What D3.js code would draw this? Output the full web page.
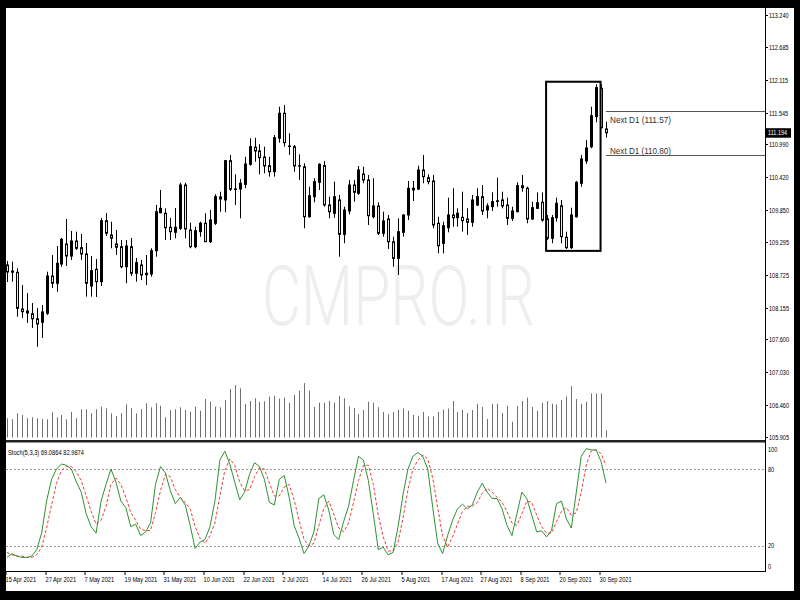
<!DOCTYPE html>
<html><head><meta charset="utf-8">
<script src="https://cdn.jsdelivr.net/npm/d3@7"></script>
<style>html,body{margin:0;padding:0;background:#000;} svg{display:block}</style>
</head><body>
<svg id="c" width="800" height="600"></svg>
<script>
// ---------- data ----------
const opens=[
108.895,108.770,108.768,108.130,108.095,108.048,107.961,107.899,108.055,108.704,
108.577,108.912,109.260,109.051,109.312,109.196,109.086,108.530,108.820,108.605,
109.665,109.416,109.260,109.213,108.865,109.213,108.751,108.895,108.751,108.738,
109.143,109.804,109.793,109.550,109.463,109.533,110.285,109.503,109.213,109.474,
109.620,109.300,109.620,110.042,110.025,110.708,110.216,110.216,110.297,110.645,
110.941,110.876,110.772,110.621,110.517,111.097,111.532,110.963,110.951,110.621,
110.603,109.734,110.082,110.332,110.621,109.938,109.793,110.025,109.428,109.833,
110.285,110.141,110.477,110.372,109.734,109.920,109.446,109.694,109.300,109.011,
109.463,109.764,110.198,110.216,110.546,110.412,110.355,109.620,109.272,109.543,
109.764,109.717,109.724,109.694,109.637,109.938,110.082,109.851,109.908,110.000,
110.025,109.938,109.706,109.821,110.273,110.228,109.694,109.880,109.985,109.694,
109.359,109.717,109.926,109.376,109.196,109.734,110.315,110.703,110.951,111.473,
111.966,111.259];
const highs=[
108.964,108.952,108.837,108.547,108.408,108.234,108.147,108.200,108.778,109.069,
109.225,109.364,109.694,109.486,109.474,109.434,109.277,109.051,108.999,109.712,
109.799,109.647,109.503,109.329,109.329,109.364,109.016,108.982,109.069,109.185,
109.938,110.198,109.880,109.712,109.886,110.325,110.325,109.630,109.561,109.647,
109.793,109.851,110.124,110.169,110.720,110.807,110.471,110.390,110.777,111.097,
111.108,110.993,110.951,110.777,111.154,111.646,111.676,111.184,110.981,110.819,
110.663,110.256,110.402,110.663,110.703,110.082,110.343,110.112,109.908,110.372,
110.372,110.616,110.603,110.459,110.402,109.985,109.821,109.764,109.387,109.706,
109.776,110.355,110.355,110.621,110.807,110.471,110.459,109.734,109.647,110.065,
110.228,109.880,110.169,109.880,110.112,110.228,110.285,109.967,110.158,110.412,
110.169,110.065,109.908,110.332,110.459,110.256,109.995,110.158,110.158,109.764,
109.764,110.065,110.025,109.474,109.891,110.355,110.807,111.068,111.646,112.036,
112.036,111.386];
const lows=[
108.599,108.605,107.996,107.974,107.887,107.800,107.475,107.626,108.026,108.495,
108.431,108.865,108.877,108.982,109.156,108.982,108.344,108.344,108.339,108.530,
109.399,109.185,109.069,108.837,108.577,108.704,108.605,108.634,108.547,108.691,
109.039,109.793,109.329,109.329,109.359,109.503,109.359,109.185,109.185,109.387,
109.300,109.277,109.590,109.821,109.811,110.181,109.938,109.706,110.228,110.621,
110.690,110.471,110.489,110.430,110.430,111.021,110.951,110.807,110.517,110.372,
109.533,109.717,109.985,110.198,109.908,109.706,109.717,109.039,109.272,109.776,
109.995,110.112,110.315,109.590,109.706,109.416,109.387,109.173,108.865,108.721,
109.387,109.677,110.007,110.198,110.315,110.297,109.533,109.098,109.098,109.463,
109.561,109.561,109.474,109.416,109.561,109.920,109.764,109.706,109.833,109.908,
109.880,109.590,109.660,109.811,110.169,109.620,109.677,109.868,109.647,109.329,
109.272,109.647,109.272,109.173,109.173,109.717,110.256,110.650,110.923,111.375,
111.271,111.108];
const closes=[
108.773,108.790,108.142,108.083,108.060,107.961,107.869,108.078,108.704,108.577,
108.924,109.342,109.051,109.312,109.185,109.086,108.577,108.796,108.605,109.665,
109.446,109.359,109.203,108.865,109.225,108.751,108.935,108.721,108.726,109.143,
109.821,109.880,109.543,109.474,109.550,110.285,109.521,109.213,109.491,109.620,
109.300,109.677,110.082,110.077,110.708,110.211,110.207,110.315,110.650,110.951,
110.876,110.760,110.616,110.517,111.108,111.532,111.021,110.955,110.616,110.616,
109.734,110.099,110.343,110.645,109.938,109.821,110.082,109.428,109.851,110.285,
110.158,110.546,110.372,109.752,109.920,109.446,109.660,109.300,109.011,109.474,
109.764,110.228,110.228,110.546,110.430,110.343,109.590,109.230,109.578,109.764,
109.717,109.793,109.665,109.637,110.025,110.082,109.833,109.920,109.995,110.010,
109.920,109.706,109.833,110.273,110.238,109.694,109.891,109.978,109.677,109.359,
109.717,109.967,109.387,109.196,109.764,110.332,110.737,110.929,111.490,111.977,
111.281,111.194];
const volumes=[
28800,27300,36300,33750,28800,30300,28800,27300,27300,37800,
30300,33750,27300,38250,28800,42300,42300,36300,42300,46200,
43800,36300,32250,36300,49800,43800,36300,42300,51300,45300,
51300,47700,30300,41250,42300,45300,41250,38700,46200,40200,
57750,53700,46200,45300,56250,72750,78750,73800,50250,54750,
58800,53700,54300,61500,62400,58350,59850,52200,64050,70200,
81600,70200,45900,52200,52200,54750,52200,62400,58800,46950,
44400,35100,41250,53700,52200,45450,38250,35100,38250,41250,
43350,40200,34050,32550,38250,31500,31500,38250,41850,43350,
54750,38250,41250,36600,41250,50550,45900,27900,50550,50550,
36600,47550,23700,47550,54750,59850,45900,40200,52200,54750,
50550,49500,56250,61500,76950,57750,50550,53700,66150,66150,
66150,10800];
const stochK=[
11,14,12,11,11,12,17,30,55,72,
80,84,83,80,70,62,45,35,30,55,
68,80,70,55,50,35,37,28,31,38,
68,82,77,63,53,58,52,36,18,23,
25,35,55,87,94,84,70,56,62,76,
85,82,72,54,52,72,75,58,36,26,
14,20,31,57,60,48,29,25,39,51,
71,90,87,71,45,17,19,13,15,35,
60,80,90,93,90,80,50,22,14,28,
40,49,52.6,49,52,62,69,62,57,57,
49,36,28,45,62,57,44,31,31.7,27,
32,53,55,41,34,62,90,96,95,95,
86,69.0864];
const stochD=[
15,13,12,12,11,11,13,19,34,52,
69,79,82,82,78,71,59,47,37,40,
51,68,73,68,58,46,40,33,32,32,
46,63,76,74,64,58,54,49,35,26,
22,28,38,59,79,88,83,70,63,64,
74,81,80,69,59,59,66,68,56,40,
25,20,22,36,49,55,45,34,31,38,
54,71,83,83,68,44,27,16,16,23,
42,64,80,87,91,88,73,50,28,19,
27,37,47,51,51,54,61,65,62,58,
54,47,38,36,45,55,54,44,35,30,
30,39,47,50,44,46,62,83,94,95,
92,82.9874];
const dateLabels=["15 Apr 2021","27 Apr 2021","7 May 2021","19 May 2021","31 May 2021","10 Jun 2021","22 Jun 2021","2 Jul 2021","14 Jul 2021","26 Jul 2021","5 Aug 2021","17 Aug 2021","27 Aug 2021","8 Sep 2021","20 Sep 2021","30 Sep 2021"];
const dateLabelIdx=[0,8,16,24,32,40,48,56,64,72,80,88,96,104,112,120];
const priceTicks=[113.240,112.685,112.115,111.545,110.990,110.420,109.850,109.295,108.725,108.155,107.600,107.030,106.460,105.905];
const stochTicks=[100,80,20,0];
const stochLevels=[80,20];
const nextD1=[111.57,110.80];
const boxIdx=[109,120];
const boxPrice=[112.08,109.14];
const currentPrice=111.194;
const stochTitle="Stoch(5,3,3) 69.0864 82.9874";
const watermark="CMPRO.IR";

// ---------- drawing ----------
const svg=d3.select('#c');
svg.append('rect').attr('width',800).attr('height',600).attr('fill','#000');
svg.append('rect').attr('x',6).attr('y',8).attr('width',788).attr('height',583).attr('fill','#fff');

const n=closes.length;
const x=d3.scaleLinear().domain([0,121]).range([7,606]);
const yP=d3.scaleLinear().domain([105.905,113.240]).range([437,15]);
const yV=d3.scaleLinear().domain([0,100000]).range([437.5,437.5-100000/1500]);
const yS=d3.scaleLinear().domain([0,100]).range([571.5,443.5]);
const px=i=>Math.round(x(i))+0.5;
const FONT="'Liberation Sans', Arial, sans-serif";

const defs=svg.append('defs');
defs.append('clipPath').attr('id','mainClip').append('rect').attr('x',6).attr('y',8).attr('width',759.5).attr('height',432);
defs.append('clipPath').attr('id','stClip').append('rect').attr('x',6).attr('y',443).attr('width',759.5).attr('height',129);

// watermark
svg.append('text').attr('x',262).attr('y',325).attr('font-family',"Roboto, 'Liberation Sans', sans-serif")
  .attr('font-weight',300).attr('font-size',84).attr('fill','#eeeeee')
  .attr('textLength',273).attr('lengthAdjust','spacingAndGlyphs').text(watermark);

const main=svg.append('g').attr('clip-path','url(#mainClip)');

// volumes
main.append('g').selectAll('line').data(volumes).join('line')
  .attr('x1',(d,i)=>px(i)).attr('x2',(d,i)=>px(i))
  .attr('y1',yV(0)).attr('y2',d=>yV(d))
  .attr('stroke','#707070').attr('stroke-width',1);

// candles
const idx=d3.range(n);
const cg=main.append('g');
cg.selectAll('line').data(idx).join('line')
  .attr('x1',i=>px(i)).attr('x2',i=>px(i))
  .attr('y1',i=>yP(highs[i])).attr('y2',i=>yP(lows[i]))
  .attr('stroke','#000').attr('stroke-width',1);
cg.selectAll('rect').data(idx).join('rect')
  .attr('x',i=>px(i)-1).attr('width',2)
  .attr('y',i=>yP(Math.max(opens[i],closes[i])))
  .attr('height',i=>Math.max(0.5,Math.abs(yP(opens[i])-yP(closes[i]))))
  .attr('fill',i=>closes[i]>=opens[i]?'#000':'#efe6e6')
  .attr('stroke','#000').attr('stroke-width',1);

// box
main.append('rect').attr('x',x(boxIdx[0])-0.5).attr('y',yP(boxPrice[0]))
  .attr('width',x(boxIdx[1])-x(boxIdx[0])).attr('height',yP(boxPrice[1])-yP(boxPrice[0]))
  .attr('fill','none').attr('stroke','#000').attr('stroke-width',2);

// next D1 lines
nextD1.forEach((v,k)=>{
  const yy=Math.round(yP(v))+0.5;
  main.append('line').attr('x1',x(121)).attr('x2',765.5).attr('y1',yy).attr('y2',yy)
    .attr('stroke','#555').attr('stroke-width',1);
  main.append('text').attr('x',x(121)+4).attr('y',k===0?yy+11:yy-2)
    .attr('font-family',FONT).attr('font-size',9.5).attr('fill','#333')
    .attr('textLength',61).attr('lengthAdjust','spacingAndGlyphs')
    .text(`Next D1 (${v.toFixed(2)})`);
});

// separator between panels
svg.append('rect').attr('x',6).attr('y',440).attr('width',760).attr('height',2.5).attr('fill','#222');

// stochastic panel
const st=svg.append('g').attr('clip-path','url(#stClip)');
stochLevels.forEach(v=>{
  st.append('line').attr('x1',6).attr('x2',765).attr('y1',Math.round(yS(v))+0.5).attr('y2',Math.round(yS(v))+0.5)
    .attr('stroke','#9a9a9a').attr('stroke-width',1).attr('stroke-dasharray','2,2');
});
const lineK=d3.line().x((d,i)=>x(i)).y(d=>yS(d));
st.append('path').attr('d',lineK(stochD)).attr('fill','none').attr('stroke','#e8403a').attr('stroke-width',1).attr('stroke-dasharray','3,2');
st.append('path').attr('d',lineK(stochK)).attr('fill','none').attr('stroke','#2f922f').attr('stroke-width',1);
svg.append('text').attr('x',8).attr('y',455).attr('font-family',FONT).attr('font-size',7.5).attr('fill','#000')
  .attr('textLength',76).attr('lengthAdjust','spacingAndGlyphs').text(stochTitle);

// axes frame
svg.append('line').attr('x1',765.5).attr('x2',765.5).attr('y1',8).attr('y2',572).attr('stroke','#000');
svg.append('line').attr('x1',6).attr('x2',766).attr('y1',571.5).attr('y2',571.5).attr('stroke','#000');

// price axis
const pa=svg.append('g');
priceTicks.forEach(v=>{
  const yy=Math.round(yP(v))+0.5;
  pa.append('line').attr('x1',766).attr('x2',768).attr('y1',yy).attr('y2',yy).attr('stroke','#000');
  pa.append('text').attr('transform',`translate(769,${yy+2.5}) scale(0.74,1)`)
    .attr('font-family',FONT).attr('font-size',7.5).attr('fill','#000').text(v.toFixed(3));
});
// current price
const cy=yP(currentPrice);
svg.append('rect').attr('x',766).attr('y',cy-4.5).attr('width',25).attr('height',9.5).attr('fill','#000');
svg.append('text').attr('transform',`translate(768,${cy+2.5}) scale(0.74,1)`)
  .attr('font-family',FONT).attr('font-size',7.5).attr('fill','#fff').text(currentPrice.toFixed(3));

// stoch axis
stochTicks.forEach(v=>{
  svg.append('text').attr('transform',`translate(768,${yS(v)+(v===100?8:v===0?-3:2.5)}) scale(0.74,1)`)
    .attr('font-family',FONT).attr('font-size',7.5).attr('fill','#000').text(v);
});

// time axis
dateLabels.forEach((t,k)=>{
  const xx=Math.round(x(dateLabelIdx[k]))-1.5;
  svg.append('line').attr('x1',xx+0.5).attr('x2',xx+0.5).attr('y1',572).attr('y2',575).attr('stroke','#000');
  svg.append('text').attr('transform',`translate(${xx},582) scale(0.71,1)`)
    .attr('font-family',FONT).attr('font-size',8).attr('fill','#000').text(t);
});
</script>
</body></html>
